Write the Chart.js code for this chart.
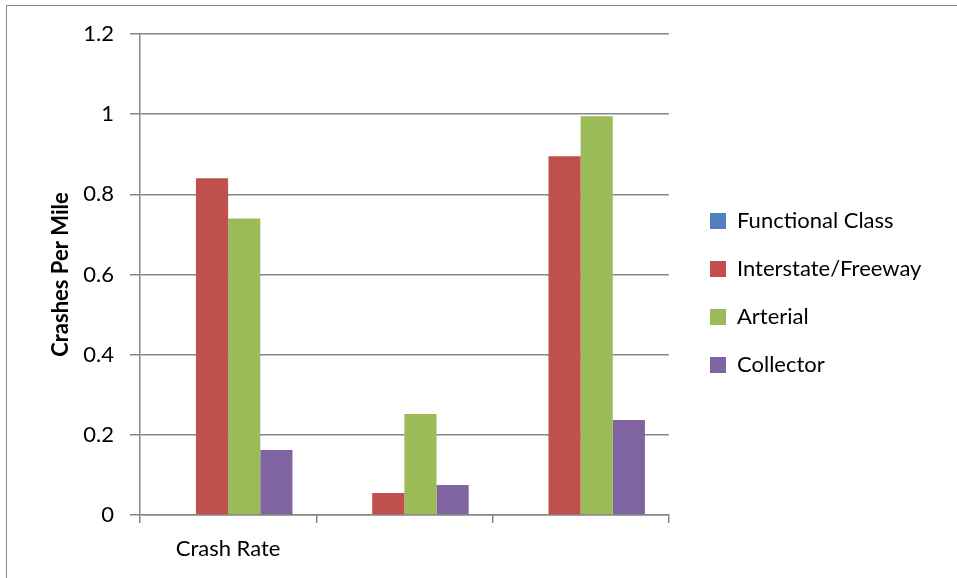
<!DOCTYPE html>
<html>
<head>
<meta charset="utf-8">
<script src="https://cdn.jsdelivr.net/npm/chart.js@4.4.0/dist/chart.umd.min.js"></script>
<style>
  html, body { margin: 0; padding: 0; background: #fff; }
  #wrap { position: relative; width: 957px; height: 578px; overflow: hidden; }
  #frame { position: absolute; left: 6px; top: 5px; width: 1000px; height: 1000px; border: 1.5px solid #8a8a8a; box-sizing: border-box; }
  #chart { position: absolute; left: 0; top: 0; }
</style>
</head>
<body>
<div id="wrap">
  <div id="frame"></div>
  <canvas id="chart" width="957" height="578"></canvas>
</div>
<script>
const categories = ["Crash Rate", "", ""];
const functionalClass = [0, 0, 0];
const interstate = [0.84, 0.055, 0.895];
const arterial = [0.74, 0.252, 0.995];
const collector = [0.162, 0.075, 0.237];
const yTicks = [0, 0.2, 0.4, 0.6, 0.8, 1, 1.2];

const font = "Lato, 'Open Sans', sans-serif";
const gridColor = "#868686";

// move the legend to where the original puts it
const legendPlace = {
  id: "legendPlace",
  afterLayout(chart) {
    const lg = chart.legend;
    const dy = 184 - lg.top;
    lg.left = 684;
    lg.right = 957;
    lg.width = lg.right - lg.left;
    lg.top += dy;
    lg.bottom = 578;
    lg.height = lg.bottom - lg.top;
  }
};

new Chart(document.getElementById("chart"), {
  type: "bar",
  data: {
    labels: categories,
    datasets: [
      { label: "Functional Class", data: functionalClass, backgroundColor: "#4F81BD" },
      { label: "Interstate/Freeway", data: interstate, backgroundColor: "#C0504D" },
      { label: "Arterial", data: arterial, backgroundColor: "#9BBB59" },
      { label: "Collector", data: collector, backgroundColor: "#8064A2" }
    ]
  },
  plugins: [legendPlace],
  options: {
    responsive: false,
    animation: false,
    events: [],
    layout: { padding: { left: 44, top: 34, right: 80, bottom: 10 } },
    datasets: { bar: { categoryPercentage: 0.73, barPercentage: 1 } },
    plugins: {
      tooltip: { enabled: false },
      legend: {
        position: "right",
        align: "start",
        labels: {
          color: "#000",
          font: { family: font, size: 22 },
          boxWidth: 16,
          boxHeight: 16,
          padding: 26
        }
      }
    },
    scales: {
      x: {
        grid: { drawOnChartArea: false, drawTicks: true, tickLength: 8, color: gridColor, lineWidth: 1.5 },
        border: { color: gridColor, width: 1.5 },
        ticks: { color: "#000", font: { family: font, size: 22 }, padding: 13 },
        afterFit: s => { s.height = 578 - 515 - 10; }
      },
      y: {
        min: 0,
        max: 1.2,
        afterBuildTicks: s => { s.ticks = yTicks.map(v => ({ value: v })); },
        grid: { color: gridColor, lineWidth: 1.5, tickLength: 10 },
        border: { color: gridColor, width: 1.5 },
        ticks: { color: "#000", font: { family: font, size: 22 }, padding: 16, callback: v => String(v) },
        title: { display: true, text: "Crashes Per Mile", color: "#000", font: { family: font, size: 22, weight: "bold" } },
        afterFit: s => { s.width = 140 - 44; }
      }
    }
  }
});
</script>
</body>
</html>
